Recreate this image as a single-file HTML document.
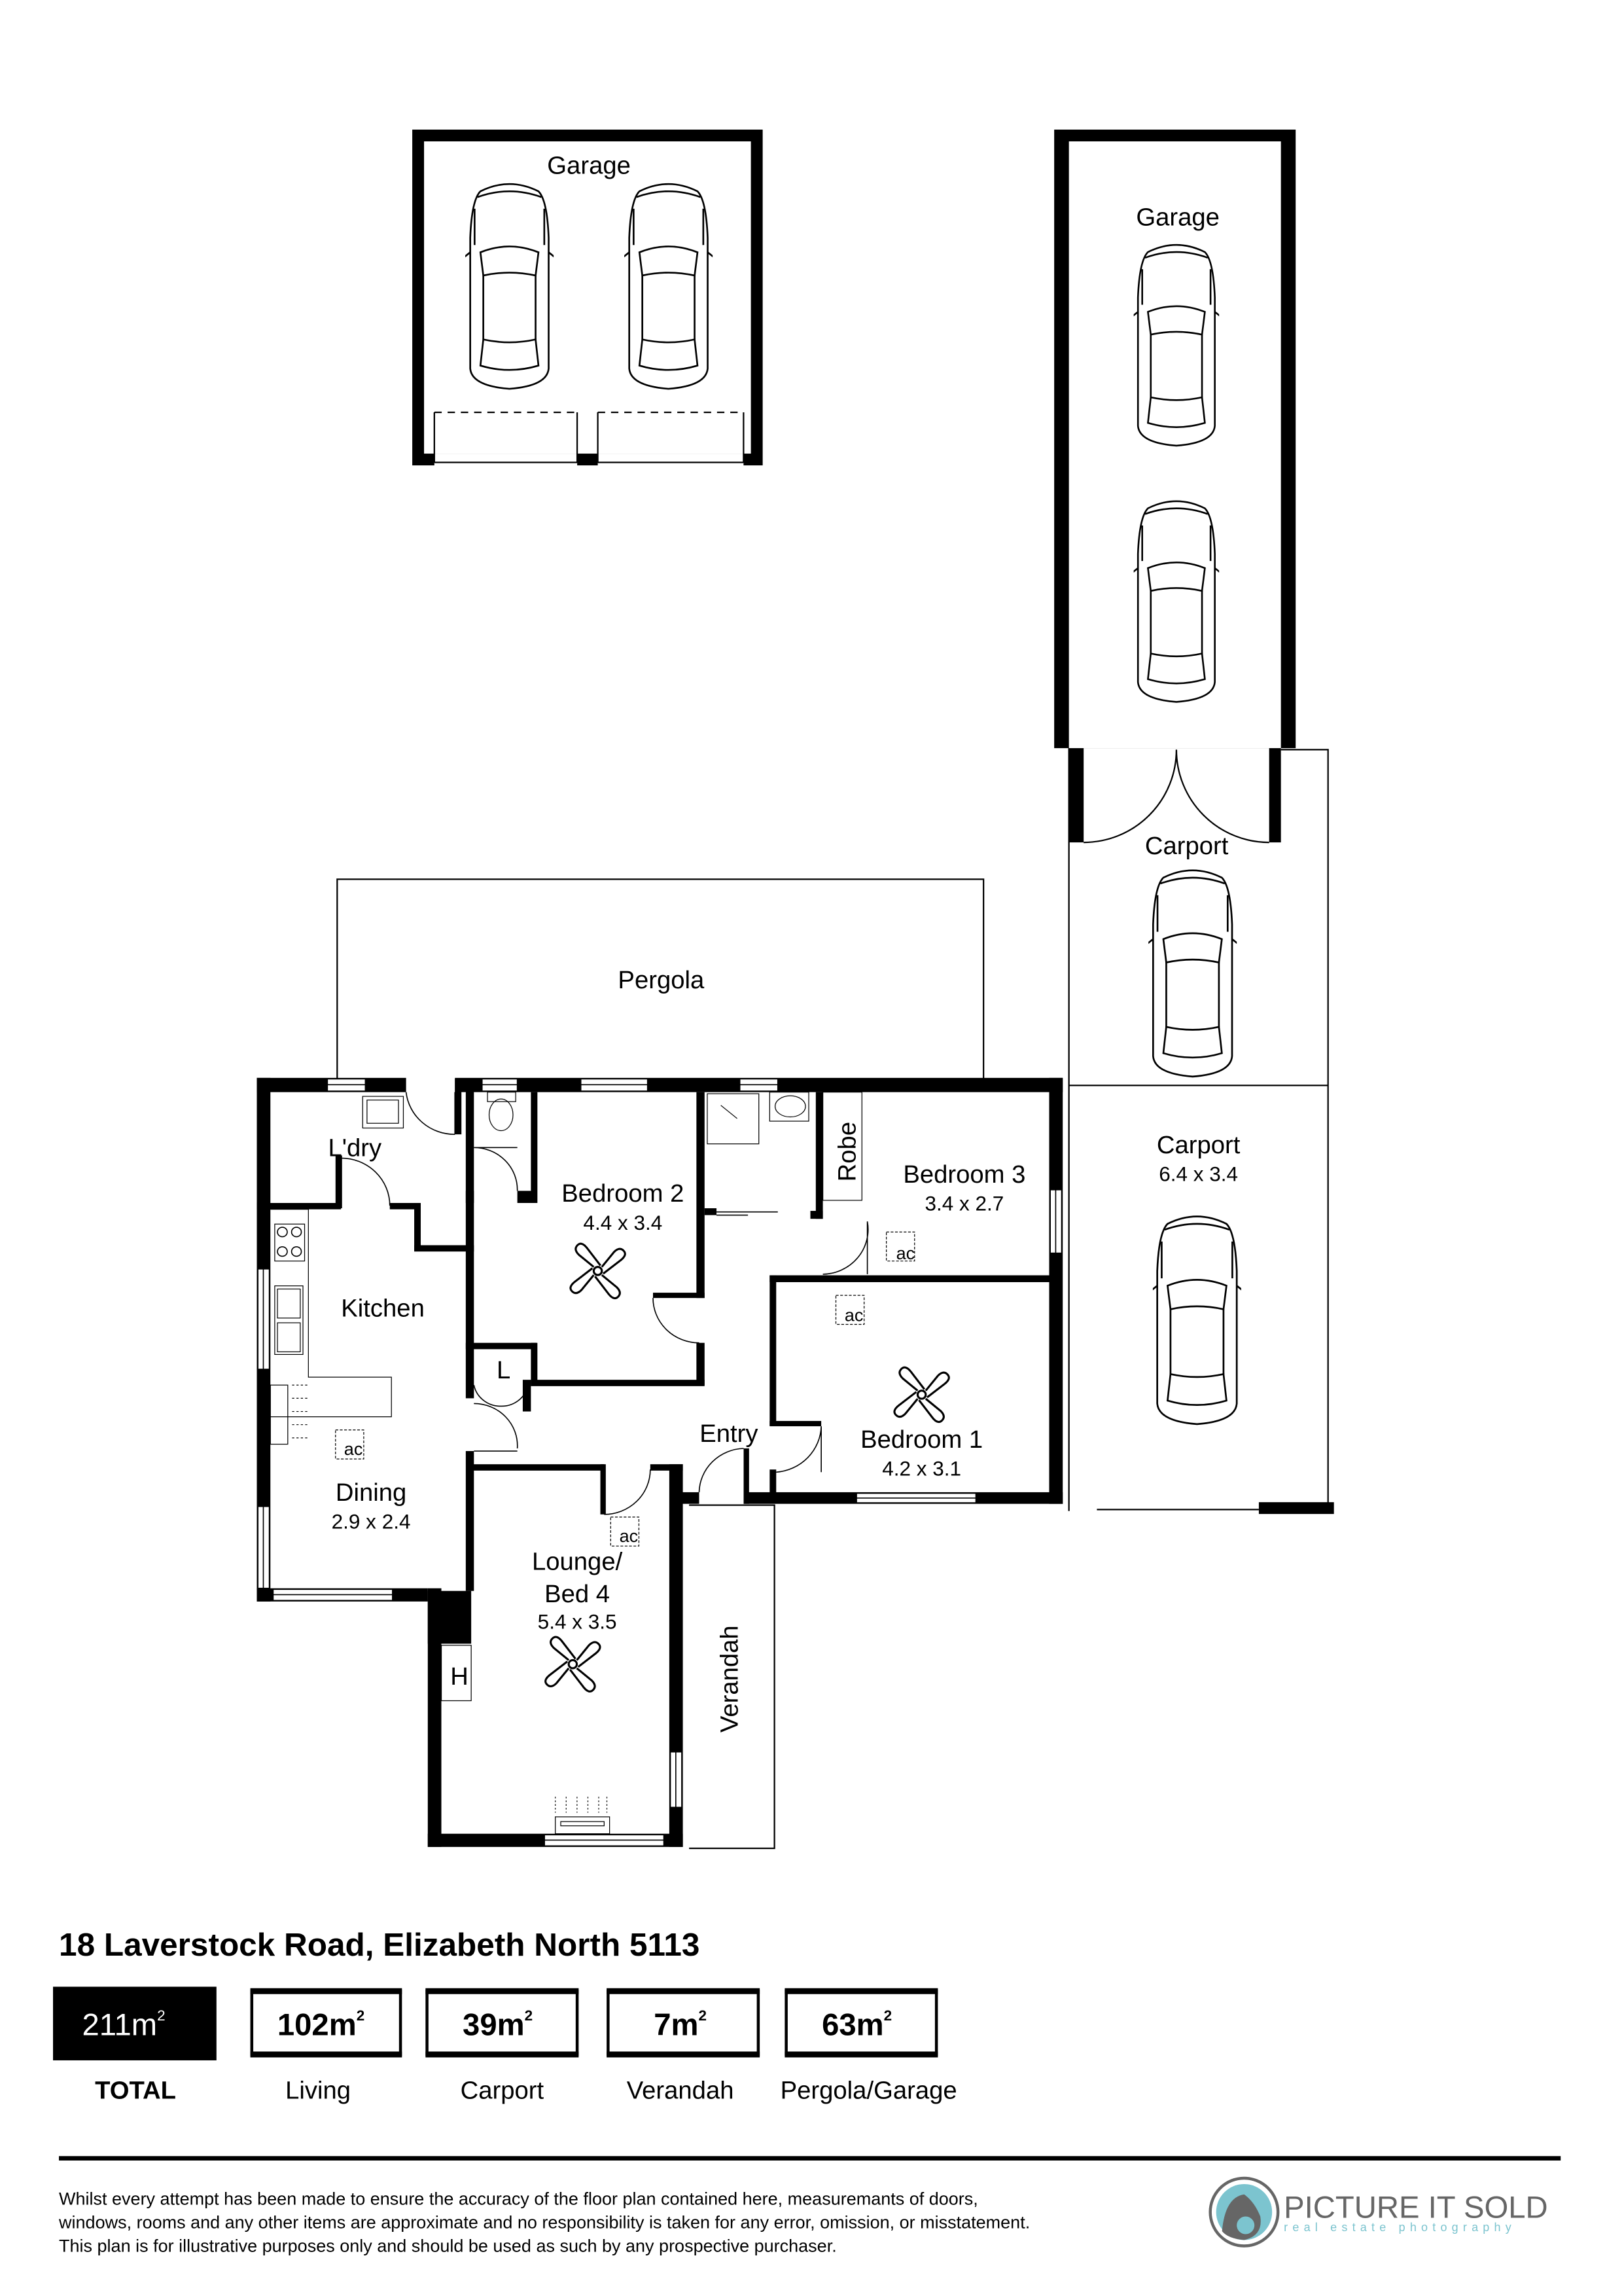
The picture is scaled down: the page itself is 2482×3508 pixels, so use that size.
<!DOCTYPE html>
<html><head><meta charset="utf-8"><style>
html,body{margin:0;padding:0;background:#fff;}
svg{display:block;}
text{font-family:"Liberation Sans",Arial,sans-serif;fill:#000;}
</style></head><body>
<svg width="2482" height="3508" viewBox="0 0 1103 1559" xmlns="http://www.w3.org/2000/svg">
<defs>
<symbol id="car" viewBox="0 0 60 145">
<g fill="none" stroke="#000" stroke-width="1.2">
<path d="M10,8 Q30,-2 50,8 Q56,14 57,40 L57,130 Q56,142 30,144 Q4,142 3,130 L3,40 Q4,14 10,8Z"/>
<path d="M8,12 Q30,4 52,12"/>
<path d="M10,50 Q30,42 50,50 L48,66 Q30,62 12,66Z"/>
<path d="M12,66 L12,110 M48,66 L48,110"/>
<path d="M12,110 Q30,114 48,110 L50,128 Q30,134 10,128Z"/>
<path d="M3,50 L-2,54 M57,50 L62,54"/>
<path d="M6,20 L6,45 M54,20 L54,45"/>
</g>
</symbol>
<symbol id="fan" viewBox="-25 -25 50 50">
<g fill="none" stroke="#000" stroke-width="1.5">
<circle r="3"/>
<g id="bl"><path d="M3,-3 L12,-14 Q16,-18 19,-15 Q22,-12 17,-8 L4,2"/></g>
<use href="#bl" transform="rotate(90)"/><use href="#bl" transform="rotate(180)"/><use href="#bl" transform="rotate(270)"/>
</g>
</symbol>
</defs>

<g>
<rect x="280" y="88" width="238" height="228" fill="#000"/>
<rect x="288" y="96" width="222" height="212" fill="#fff"/>
<rect x="295" y="308" width="97" height="10" fill="#fff"/>
<rect x="406" y="308" width="99" height="10" fill="#fff"/>
<path d="M295,280 H392 M406,280 H505" stroke="#000" stroke-width="1" stroke-dasharray="5,4"/>
<path d="M295,280 V314 M392,280 V314 M406,280 V314 M505,280 V314 M295,314 H392 M406,314 H505" stroke="#000" stroke-width="1" fill="none"/>
<use href="#car" x="316" y="122" width="60" height="143"/>
<use href="#car" x="424" y="122" width="60" height="143"/>
<text x="400" y="118" font-size="17" text-anchor="middle">Garage</text>
</g>

<g>
<rect x="716" y="88" width="164" height="420" fill="#000"/>
<rect x="726" y="96" width="144" height="412" fill="#fff"/>
<rect x="726" y="508" width="10" height="64" fill="#000"/>
<rect x="862" y="508" width="8" height="64" fill="#000"/>
<path d="M736,572 A63,63 0 0 0 799,509 M862,572 A63,63 0 0 1 799,509" fill="none" stroke="#000" stroke-width="1"/>
<use href="#car" x="770" y="162" width="58" height="143"/>
<use href="#car" x="770" y="335" width="58" height="145"/>
<text x="800" y="153" font-size="17" text-anchor="middle">Garage</text>
</g>

<g fill="none" stroke="#000" stroke-width="1">
<path d="M870,509 H902 V1026 M726,508 V1026 M726,737 H902"/>
<path d="M745,1025 H855"/>
</g>
<rect x="855" y="1020" width="51" height="8" fill="#000"/>
<use href="#car" x="780" y="588" width="60" height="144"/>
<use href="#car" x="783" y="823" width="60" height="145"/>
<text x="806" y="580" font-size="17" text-anchor="middle">Carport</text>
<text x="814" y="783" font-size="17" text-anchor="middle">Carport</text>
<text x="814" y="802" font-size="14" text-anchor="middle">6.4 x 3.4</text>

<path d="M229,737 V597 H668 V737" fill="none" stroke="#000" stroke-width="1"/>
<text x="449" y="671" font-size="17" text-anchor="middle">Pergola</text>

<path d="M468,1022 H526 V1255 H468" fill="none" stroke="#000" stroke-width="1"/>

<g transform="translate(168.9,711.1) scale(0.3686,0.3584)">
<g fill="#000">
<rect x="15" y="58" width="275" height="27"/>
<rect x="380" y="58" width="1120" height="27"/>
<rect x="15" y="58" width="25" height="992"/>
<rect x="15" y="1025" width="315" height="25"/>
<rect x="330" y="1025" width="25" height="490"/>
<rect x="330" y="1030" width="80" height="100"/>
<rect x="330" y="1490" width="470" height="25"/>
<rect x="775" y="790" width="25" height="725"/>
<rect x="1475" y="58" width="25" height="807"/>
<rect x="912" y="843" width="588" height="22"/>
<rect x="912" y="760" width="10" height="105"/>
<rect x="960" y="432" width="12" height="285"/>
<rect x="960" y="708" width="95" height="10"/>
<rect x="960" y="800" width="12" height="45"/>
<rect x="960" y="432" width="530" height="13"/>
<rect x="1045" y="85" width="13" height="240"/>
<rect x="1035" y="310" width="23" height="15"/>
<rect x="840" y="305" width="22" height="13"/>
<rect x="825" y="85" width="15" height="390"/>
<rect x="745" y="465" width="95" height="10"/>
<rect x="825" y="560" width="15" height="80"/>
<rect x="520" y="630" width="320" height="12"/>
<rect x="520" y="560" width="12" height="80"/>
<rect x="400" y="560" width="130" height="12"/>
<rect x="400" y="60" width="15" height="605"/>
<rect x="400" y="765" width="15" height="265"/>
<rect x="400" y="272" width="15" height="23"/>
<rect x="495" y="272" width="35" height="23"/>
<rect x="520" y="85" width="12" height="210"/>
<rect x="15" y="295" width="155" height="12"/>
<rect x="160" y="205" width="12" height="100"/>
<rect x="260" y="295" width="55" height="12"/>
<rect x="305" y="295" width="12" height="90"/>
<rect x="305" y="375" width="110" height="12"/>
<rect x="380" y="60" width="12" height="105"/>
<rect x="410" y="790" width="245" height="12"/>
<rect x="648" y="790" width="10" height="95"/>
<rect x="740" y="790" width="60" height="12"/>
<rect x="790" y="843" width="40" height="22"/>
<rect x="505" y="630" width="15" height="60"/>
</g>
<g fill="#fff" stroke="#000" stroke-width="2">
<rect x="145" y="60" width="70" height="23"/>
<rect x="430" y="60" width="65" height="23"/>
<rect x="612" y="60" width="123" height="23"/>
<rect x="905" y="60" width="70" height="23"/>
<rect x="17" y="420" width="21" height="190"/>
<rect x="17" y="870" width="21" height="155"/>
<rect x="45" y="1027" width="220" height="21"/>
<rect x="545" y="1492" width="220" height="21"/>
<rect x="777" y="1335" width="21" height="105"/>
<rect x="1477" y="270" width="21" height="120"/>
<rect x="1120" y="845" width="220" height="18"/>
</g>
<g stroke="#000" stroke-width="2" fill="none">
<path d="M145,71 H215 M430,71 H495 M612,71 H735 M905,71 H975 M27,420 V610 M27,870 V1025 M45,1037 H265 M545,1502 H765 M787,1335 V1440 M1487,270 V390 M1120,854 H1340"/>
<path d="M290,85 A90,90 0 0 0 380,165 M380,85 V165"/>
<path d="M170,210 A90,90 0 0 1 260,300 M170,210 H172"/>
<path d="M415,190 A80,80 0 0 1 495,272 M415,190 H495"/>
<path d="M745,475 A85,85 0 0 0 830,560"/>
<path d="M1058,430 A85,85 0 0 0 1140,330 V430"/>
<path d="M972,805 A90,90 0 0 0 1055,718 V805"/>
<path d="M830,843 A85,85 0 0 1 912,760"/>
<path d="M655,885 A85,85 0 0 0 740,800"/>
<path d="M415,675 A80,80 0 0 1 495,760 M415,765 H495"/>
<path d="M465,680 A50,50 0 0 1 415,640 M465,680 A50,50 0 0 0 515,640"/>
<path d="M862,312 H975 M862,318 H920"/>
<rect x="1058" y="85" width="72" height="205" stroke-width="1.5"/>
<rect x="355" y="1133" width="55" height="105" stroke-width="1.5"/>
<path d="M40,307 H110 V625 H263 V700 H40" stroke-width="1.5"/>
<rect x="48" y="335" width="55" height="70" stroke-width="1.5"/>
<circle cx="62" cy="350" r="9"/><circle cx="88" cy="350" r="9"/><circle cx="62" cy="387" r="9"/><circle cx="88" cy="387" r="9"/>
<rect x="48" y="452" width="52" height="130" stroke-width="1.5"/>
<rect x="53" y="458" width="42" height="55" stroke-width="1.5"/>
<rect x="53" y="522" width="42" height="55" stroke-width="1.5"/>
<rect x="40" y="640" width="32" height="112" stroke-width="1.5"/>
<path d="M80,640 H110 M80,665 H110 M80,690 H110 M80,715 H110 M80,740 H110" stroke-width="1.5" stroke-dasharray="4,4"/>
<rect x="210" y="93" width="75" height="60" stroke-width="1.5"/>
<rect x="218" y="100" width="58" height="44" stroke-width="1.5"/>
<rect x="440" y="85" width="52" height="18" stroke-width="1.5"/>
<ellipse cx="465" cy="128" rx="22" ry="30" stroke-width="1.5"/>
<rect x="845" y="88" width="95" height="95" stroke-width="1.5"/>
<path d="M870,110 L900,135" stroke-width="1.5"/>
<rect x="960" y="85" width="72" height="55" stroke-width="1.5"/>
<ellipse cx="998" cy="112" rx="28" ry="20" stroke-width="1.5"/>
<rect x="565" y="1458" width="100" height="32" stroke-width="1.5"/>
<rect x="575" y="1467" width="80" height="8" stroke-width="1.5"/>
<path d="M565,1420 V1450 M585,1420 V1450 M605,1420 V1450 M625,1420 V1450 M645,1420 V1450 M660,1420 V1450" stroke-width="1.5" stroke-dasharray="3,4"/>
</g>
<g fill="none" stroke="#000" stroke-width="1.5" stroke-dasharray="5,3">
<rect x="160" y="725" width="52" height="55"/>
<rect x="667" y="890" width="52" height="55"/>
<rect x="1175" y="350" width="52" height="55"/>
<rect x="1082" y="470" width="52" height="55"/>
</g>
</g>
<g font-size="12" text-anchor="middle">
<text x="240" y="988">ac</text>
<text x="427" y="1047">ac</text>
<text x="615" y="855">ac</text>
<text x="580" y="897">ac</text>
</g>
<use href="#fan" x="383" y="840" width="46" height="46"/>
<use href="#fan" x="603" y="924" width="46" height="46"/>
<use href="#fan" x="366" y="1107" width="46" height="46"/>

<g font-size="17" text-anchor="middle">
<text x="241" y="785">L'dry</text>
<text x="260" y="894">Kitchen</text>
<text x="252" y="1019">Dining</text>
<text x="423" y="816">Bedroom 2</text>
<text x="655" y="803">Bedroom 3</text>
<text x="626" y="983">Bedroom 1</text>
<text x="495" y="979">Entry</text>
<text x="392" y="1066">Lounge/</text>
<text x="392" y="1088">Bed 4</text>
<text x="342" y="936">L</text>
<text x="312" y="1144">H</text>
<text transform="translate(581,782) rotate(-90)">Robe</text>
<text transform="translate(501,1140) rotate(-90)">Verandah</text>
</g>
<g font-size="14" text-anchor="middle">
<text x="252" y="1038">2.9 x 2.4</text>
<text x="423" y="835">4.4 x 3.4</text>
<text x="655" y="822">3.4 x 2.7</text>
<text x="626" y="1002">4.2 x 3.1</text>
<text x="392" y="1106">5.4 x 3.5</text>
</g>

<text x="40" y="1328" font-size="22" font-weight="bold">18 Laverstock Road, Elizabeth North 5113</text>
<rect x="36" y="1349" width="111" height="50" fill="#000"/>
<text x="84" y="1382" font-size="21" text-anchor="middle" style="fill:#fff">211m<tspan font-size="10" dy="-10">2</tspan></text>
<g fill="none" stroke="#000">
<rect x="171" y="1352" width="101" height="43" stroke-width="2"/>
<rect x="290" y="1352" width="102" height="43" stroke-width="2"/>
<rect x="413" y="1352" width="102" height="43" stroke-width="2"/>
<rect x="534" y="1352" width="102" height="43" stroke-width="2"/>
</g>
<g fill="#000">
<rect x="170" y="1350" width="103" height="4"/><rect x="170" y="1393" width="103" height="4"/>
<rect x="289" y="1350" width="104" height="4"/><rect x="289" y="1393" width="104" height="4"/>
<rect x="412" y="1350" width="104" height="4"/><rect x="412" y="1393" width="104" height="4"/>
<rect x="533" y="1350" width="104" height="4"/><rect x="533" y="1393" width="104" height="4"/>
</g>
<g font-size="21" font-weight="bold" text-anchor="middle">
<text x="218" y="1382">102m<tspan font-size="10" dy="-10">2</tspan></text>
<text x="338" y="1382">39m<tspan font-size="10" dy="-10">2</tspan></text>
<text x="462" y="1382">7m<tspan font-size="10" dy="-10">2</tspan></text>
<text x="582" y="1382">63m<tspan font-size="10" dy="-10">2</tspan></text>
</g>
<text x="92" y="1425" font-size="17" font-weight="bold" text-anchor="middle">TOTAL</text>
<g font-size="17" text-anchor="middle">
<text x="216" y="1425">Living</text>
<text x="341" y="1425">Carport</text>
<text x="462" y="1425">Verandah</text>
<text x="590" y="1425">Pergola/Garage</text>
</g>
<rect x="40" y="1464" width="1020" height="3" fill="#000"/>
<g font-size="12">
<text x="40" y="1497">Whilst every attempt has been made to ensure the accuracy of the floor plan contained here, measuremants of doors,</text>
<text x="40" y="1513">windows, rooms and any other items are approximate and no responsibility is taken for any error, omission, or misstatement.</text>
<text x="40" y="1529">This plan is for illustrative purposes only and should be used as such by any prospective purchaser.</text>
</g>
<circle cx="845" cy="1502" r="23" fill="#fff" stroke="#666" stroke-width="2"/>
<circle cx="845" cy="1502" r="19" fill="#7cc4cf"/>
<path d="M830,1515 Q832,1492 845,1490 Q852,1495 856,1505 Q858,1518 845,1521 Q834,1520 830,1515Z" fill="#666"/>
<circle cx="846" cy="1511" r="6" fill="#7cc4cf"/>
<text x="872" y="1506" font-size="21" style="fill:#666">PICTURE IT SOLD</text>
<text x="872" y="1515" font-size="8" letter-spacing="3.2" style="fill:#7cc4cf">real estate photography</text>
</svg>
</body></html>
